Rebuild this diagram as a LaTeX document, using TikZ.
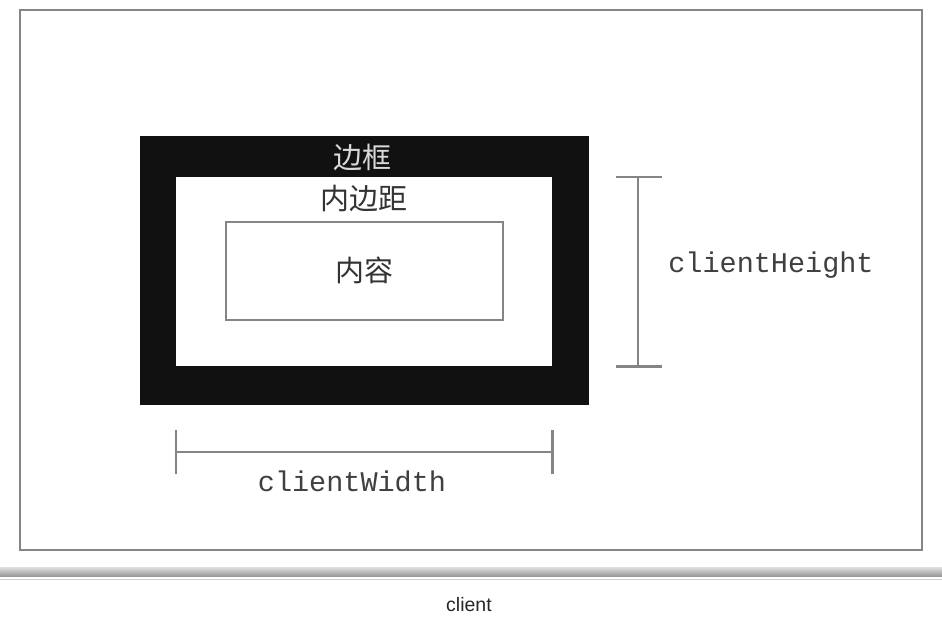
\documentclass[tikz,border=0pt]{standalone}
\usepackage{fontspec}
\setmonofont{Liberation Mono}
\setsansfont{Liberation Sans}
\newfontfamily\cjk{Noto Sans CJK SC}
\usetikzlibrary{positioning,calc}
\definecolor{frame}{HTML}{858585}
\definecolor{ink}{HTML}{111111}
\definecolor{bar}{HTML}{858585}

\begin{document}
\begin{tikzpicture}[
  x=1pt,y=-1pt,
  box/.style={rectangle,inner sep=0pt,anchor=center},
  measure/.style={draw=bar,line width=2.6pt},
  cjklabel/.style={font=\cjk\fontsize{29}{31}\selectfont,text=black!80},
  codelabel/.style={font=\ttfamily\fontsize{28.5}{30}\selectfont,text=black!75}
]
\useasboundingbox (0,0) rectangle (942,633);
\fill[white] (0,0) rectangle (942,633);
% outer frame
\node[box,draw=frame,line width=2pt,minimum width=902pt,minimum height=540pt] (page) at (471,280) {};
% border, padding, content
\node[box,fill=ink,minimum width=449pt,minimum height=269pt] (border) at (364.5,270.5) {};
\node[box,fill=white,minimum width=376pt,minimum height=189pt] (padding) at (364,271.5) {};
\node[box,draw=frame,line width=1.6pt,minimum width=277pt,minimum height=98pt] (content) at (364.5,271) {};
\node[cjklabel,text=white!85!black] (borderlabel) at (362,157) {边框};
\node[cjklabel] (paddinglabel) at (364,199) {内边距};
\node[cjklabel] (contentlabel) at (364,270) {内容};
% clientHeight
\coordinate (htop) at (padding.north -| 638,0);
\coordinate (hbot) at (padding.south -| 638,0);
\draw[measure] (htop) -- (hbot);
\draw[measure] ([xshift=-22pt]htop) -- ([xshift=24pt]htop);
\draw[measure] ([xshift=-22pt]hbot) -- ([xshift=24pt]hbot);
\node[codelabel] (height) at (771,265) {clientHeight};
% clientWidth
\coordinate (wleft) at (padding.west |- 0,452);
\coordinate (wright) at (padding.east |- 0,452);
\draw[measure] (wleft) -- (wright);
\draw[measure] ([yshift=-22pt]wleft) -- ([yshift=22pt]wleft);
\draw[measure] ([yshift=-22pt]wright) -- ([yshift=22pt]wright);
\node[codelabel] (width) at (352,481) {clientWidth};
% caption
\shade[top color=black!12,bottom color=black!40] (0,567) rectangle (942,576);
\draw[black!18,line width=1pt] (0,579) -- (942,579);
\node[font=\sffamily\fontsize{19.5}{21}\selectfont,text=black!85] (caption) at (469,605) {client};
\end{tikzpicture}
\end{document}
